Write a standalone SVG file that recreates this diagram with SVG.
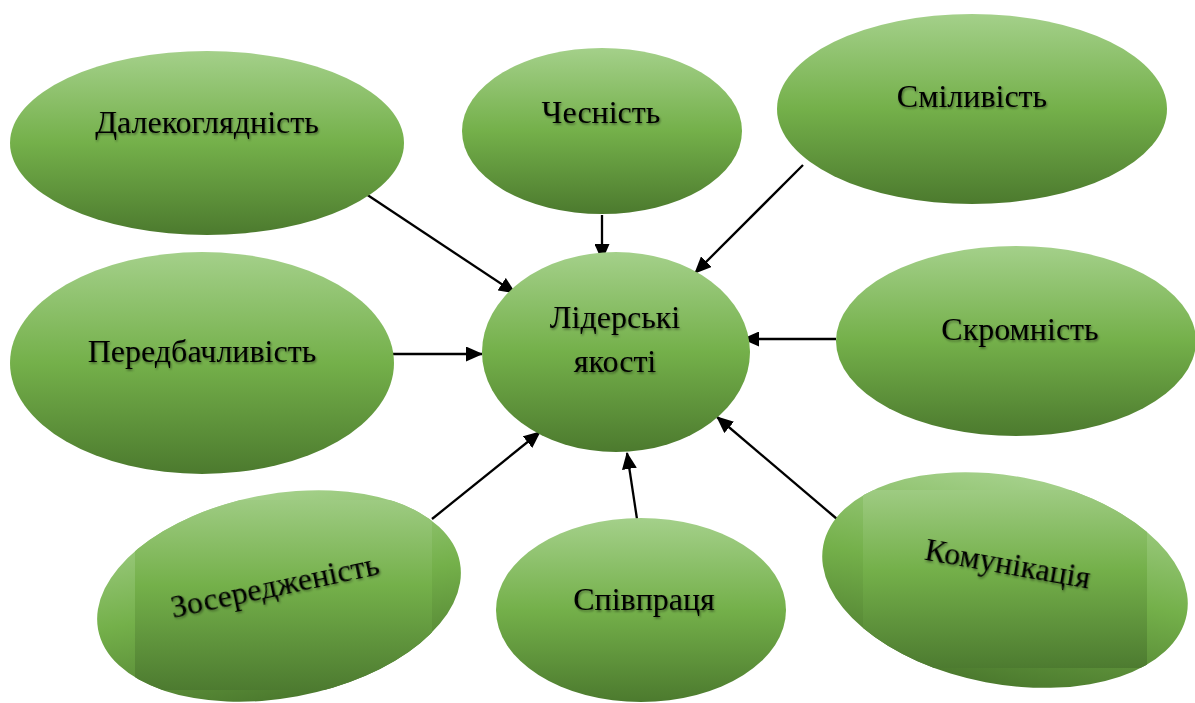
<svg xmlns="http://www.w3.org/2000/svg" width="1195" height="703" viewBox="0 0 1195 703">
<defs>
  <linearGradient id="g" x1="0" y1="0" x2="0" y2="1">
    <stop offset="0" stop-color="#a4d08a"/>
    <stop offset="0.5" stop-color="#74b04a"/>
    <stop offset="1" stop-color="#4c7a2e"/>
  </linearGradient>
  <linearGradient id="gr" x1="0" y1="0" x2="0" y2="1">
    <stop offset="0" stop-color="#9ecb82"/>
    <stop offset="0.45" stop-color="#74b04a"/>
    <stop offset="1" stop-color="#4d7b30"/>
  </linearGradient>
  <filter id="sh" x="-10%" y="-30%" width="120%" height="160%">
    <feDropShadow dx="1" dy="1.5" stdDeviation="1.2" flood-color="#000" flood-opacity="0.45"/>
  </filter>
  <marker id="arr" viewBox="0 0 17 15" refX="16" refY="7.5" markerWidth="17" markerHeight="15" markerUnits="userSpaceOnUse" orient="auto">
    <path d="M0,0 L17,7.5 L0,15 z" fill="#000"/>
  </marker>
  <clipPath id="cz"><ellipse cx="0" cy="0" rx="184" ry="102" transform="translate(279,596) rotate(-10.5)"/></clipPath>
  <clipPath id="ck"><ellipse cx="0" cy="0" rx="185" ry="104" transform="translate(1005,580) rotate(10.75)"/></clipPath>
</defs>
<style>
  .n { fill: url(#g); }
  .r { fill: url(#gr); }
  .t { font-family: "Liberation Serif", "Times New Roman", serif; font-size: 32px; fill: #000; text-anchor: middle; filter: url(#sh); }
  .c { stroke: #000; stroke-width: 2.3; fill: none; marker-end: url(#arr); }
</style>
<rect width="1195" height="703" fill="#fff"/>

<g id="connectors">
  <line class="c" x1="366" y1="194" x2="515" y2="293"/>
  <line class="c" x1="602" y1="215" x2="602" y2="260"/>
  <line class="c" x1="803" y1="165" x2="695" y2="273"/>
  <line class="c" x1="393" y1="354" x2="482" y2="354"/>
  <line class="c" x1="836" y1="339" x2="743" y2="339"/>
  <line class="c" x1="432" y1="519" x2="540" y2="432"/>
  <line class="c" x1="637" y1="519" x2="627" y2="453"/>
  <line class="c" x1="837" y1="519" x2="717" y2="417"/>
</g>

<g id="n-dalekohliadnist">
  <ellipse class="n" cx="207" cy="143" rx="197" ry="92"/>
  <text class="t" x="207" y="133">Далекоглядність</text>
</g>
<g id="n-chesnist">
  <ellipse class="n" cx="602" cy="131" rx="140" ry="83"/>
  <text class="t" x="601" y="123">Чесність</text>
</g>
<g id="n-smilyvist">
  <ellipse class="n" cx="972" cy="109" rx="195" ry="95"/>
  <text class="t" x="972" y="107">Сміливість</text>
</g>
<g id="n-peredbachlyvist">
  <ellipse class="n" cx="202" cy="363" rx="192" ry="111"/>
  <text class="t" x="202" y="362">Передбачливість</text>
</g>
<g id="n-liderski">
  <ellipse class="n" cx="616" cy="352" rx="134" ry="100"/>
  <text class="t" x="615" y="328">Лідерські</text>
  <text class="t" x="615" y="372">якості</text>
</g>
<g id="n-skromnist">
  <ellipse class="n" cx="1016" cy="341" rx="180" ry="95"/>
  <text class="t" x="1020" y="340">Скромність</text>
</g>
<g id="n-zoseredzhenist">
  <g transform="translate(279,596) rotate(-10.5)">
    <ellipse class="n" cx="0" cy="0" rx="184" ry="102"/>
  </g>
  <rect class="r" x="135" y="500" width="297" height="190" clip-path="url(#cz)"/>
  <text class="t" transform="translate(277,596) rotate(-12)" x="0" y="0">Зосередженість</text>
</g>
<g id="n-spivpratsia">
  <ellipse class="n" cx="641" cy="610" rx="145" ry="92"/>
  <text class="t" x="644" y="610">Співпраця</text>
</g>
<g id="n-komunikatsiia">
  <g transform="translate(1005,580) rotate(10.75)">
    <ellipse class="n" cx="0" cy="0" rx="185" ry="104"/>
  </g>
  <rect class="r" x="863" y="490" width="284" height="178" clip-path="url(#ck)"/>
  <text class="t" transform="translate(1006,574) rotate(10)" x="0" y="0">Комунікація</text>
</g>
</svg>
